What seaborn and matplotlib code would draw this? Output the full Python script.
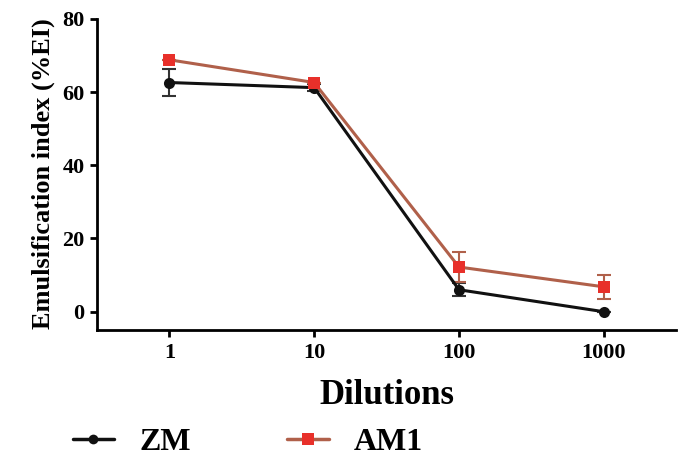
import matplotlib
matplotlib.use("Agg")
import matplotlib.pyplot as plt
import seaborn as sns
import pandas as pd
from matplotlib.lines import Line2D

dilutions = [1, 10, 100, 1000]
zm_mean = [62.6, 61.2, 6.0, 0.0]
zm_err = [3.6, 1.0, 1.8, 0.0]
am1_mean = [68.8, 62.6, 12.2, 6.8]
am1_err = [0.0, 0.0, 4.0, 3.2]
series_names = ["ZM", "AM1"]
yticks = [0, 20, 40, 60, 80]

sns.set_style("ticks")
plt.rcParams["font.family"] = ["Liberation Serif", "DejaVu Serif"]
plt.rcParams["font.weight"] = "bold"
plt.rcParams["text.color"] = "black"
plt.rcParams["axes.labelcolor"] = "black"
plt.rcParams["xtick.color"] = "black"
plt.rcParams["ytick.color"] = "black"

df = pd.DataFrame({
    "Dilutions": dilutions * 2,
    "EI": zm_mean + am1_mean,
    "Series": [series_names[0]] * 4 + [series_names[1]] * 4,
})

fig = plt.figure(figsize=(6.83, 4.59), dpi=100)
ax = fig.add_axes([0.142, 0.281, 0.848, 0.682])

zm_line = "#111111"
am_line = "#b0604a"
am_mark = "#e8302a"

ax.errorbar(dilutions, zm_mean, yerr=zm_err, fmt="none", ecolor="#333333",
            elinewidth=1.5, capsize=5, capthick=1.5, zorder=2)
ax.errorbar(dilutions, am1_mean, yerr=am1_err, fmt="none", ecolor=am_line,
            elinewidth=1.5, capsize=5, capthick=1.5, zorder=2)

sns.lineplot(data=df[df.Series == "ZM"], x="Dilutions", y="EI", ax=ax,
             color=zm_line, marker="o", markersize=8, markeredgewidth=0,
             linewidth=2.2, legend=False, zorder=3)
sns.lineplot(data=df[df.Series == "AM1"], x="Dilutions", y="EI", ax=ax,
             color=am_line, marker="s", markersize=9, markerfacecolor=am_mark,
             markeredgewidth=0, linewidth=2.2, legend=False, zorder=4)

ax.set_xscale("log")
ax.set_xlim(10 ** -0.5, 10 ** 3.5)
ax.set_ylim(-5, 80.5)
ax.set_xticks(dilutions)
ax.set_xticklabels([str(d) for d in dilutions])
ax.minorticks_off()
ax.set_yticks(yticks)
ax.set_yticklabels([str(t) for t in yticks])
ax.tick_params(axis="both", labelsize=16, width=2, length=5, color="black", pad=4)
for lab in ax.get_xticklabels() + ax.get_yticklabels():
    lab.set_fontweight("bold")

for s in ["top", "right"]:
    ax.spines[s].set_visible(False)
for s in ["left", "bottom"]:
    ax.spines[s].set_linewidth(2)
    ax.spines[s].set_color("black")
ax.spines["left"].set_bounds(-5, 80)

ax.set_xlabel("Dilutions", fontsize=25, fontweight="bold", labelpad=12)
ax.set_ylabel("Emulsification index (%EI)", fontsize=19, fontweight="bold", labelpad=5)

handles = [
    Line2D([], [], color=zm_line, marker="o", markersize=7, linewidth=2.5, markeredgewidth=0),
    Line2D([], [], color=am_line, marker="s", markersize=8, markerfacecolor=am_mark,
           linewidth=2.5, markeredgewidth=0),
]
fig.legend(handles, series_names, loc="center", bbox_to_anchor=(248 / 683, 1 - 442 / 459),
           ncol=2, frameon=False, prop={"size": 23, "weight": "bold"},
           handlelength=1.3, columnspacing=3.0, handletextpad=0.8)

fig.savefig("out.png", dpi=100)
